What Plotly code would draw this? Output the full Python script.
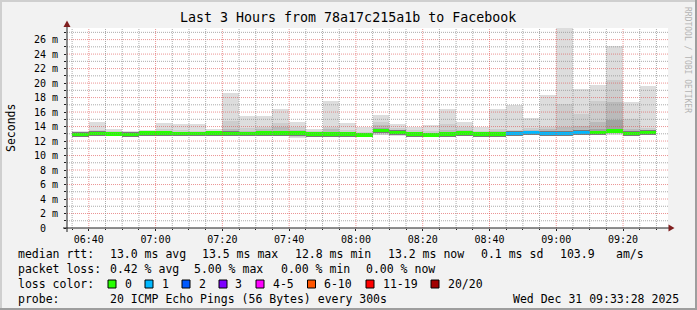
import plotly.graph_objects as go
from datetime import datetime, timedelta

# ---------------- data ----------------
slot_start = ["06:35", "06:40", "06:45", "06:50", "06:55", "07:00", "07:05", "07:10",
              "07:15", "07:20", "07:25", "07:30", "07:35", "07:40", "07:45", "07:50",
              "07:55", "08:00", "08:05", "08:10", "08:15", "08:20", "08:25", "08:30",
              "08:35", "08:40", "08:45", "08:50", "08:55", "09:00", "09:05", "09:10",
              "09:15", "09:20", "09:25"]
median_ms = [12.88, 13.07, 12.97, 12.90, 13.10, 13.10, 13.00, 13.00, 13.10, 13.05,
             13.00, 13.10, 13.10, 13.10, 12.95, 12.95, 12.95, 12.85, 13.43, 13.18,
             12.95, 12.85, 12.95, 13.10, 12.95, 12.95, 13.05, 13.15, 13.05, 13.05,
             13.20, 13.15, 13.40, 13.05, 13.20]
loss_count = [0, 0, 0, 0, 0, 0, 0, 0, 0, 0, 0, 0, 0, 0, 0, 0, 0, 0, 0, 0,
              0, 0, 0, 0, 0, 0, 1, 1, 1, 1, 1, 0, 0, 0, 0]
smoke_lo = [12.55, 12.70, 12.70, 12.75, 12.90, 12.80, 12.70, 12.75, 12.80, 12.70,
            12.70, 12.75, 12.80, 12.46, 12.75, 12.80, 12.75, 12.75, 12.80, 12.70,
            12.70, 12.75, 12.80, 12.85, 12.80, 12.60, 12.70, 12.90, 12.80, 12.75,
            12.85, 12.80, 12.85, 12.80, 12.90]
smoke_q1 = [13.38, 14.67, 13.66, 13.40, 13.50, 14.53, 14.35, 14.35, 13.66, 18.65,
            15.50, 15.45, 16.40, 14.65, 13.60, 17.50, 14.50, 13.98, 15.58, 14.35,
            14.00, 14.17, 16.40, 14.62, 14.00, 16.40, 17.00, 15.15, 18.33, 27.60,
            19.16, 19.70, 25.06, 17.40, 19.60]
smoke_q2 = [13.15, 13.50, 13.35, 13.15, 13.35, 13.70, 13.50, 13.45, 13.45, 14.80,
            13.84, 13.90, 14.45, 13.90, 13.35, 14.00, 13.55, 13.25, 14.60, 13.75,
            13.50, 13.35, 14.30, 13.90, 13.45, 13.65, 13.55, 13.85, 14.00, 17.05,
            15.70, 17.50, 20.40, 15.10, 13.75]
smoke_q3 = [13.05, 13.30, 13.15, 13.05, 13.25, 13.45, 13.30, 13.25, 13.35, 13.70,
            13.45, 13.65, 13.90, 13.50, 13.15, 13.60, 13.25, 13.05, 14.15, 13.45,
            13.25, 13.10, 13.50, 13.50, 13.25, 13.35, 13.35, 13.50, 13.60, 14.00,
            14.10, 14.67, 17.40, 13.70, 13.55]
smoke_q4 = [13.00, 13.20, 13.10, 13.00, 13.20, 13.30, 13.15, 13.15, 13.25, 13.30,
            13.20, 13.35, 13.40, 13.30, 13.10, 13.20, 13.10, 13.00, 13.80, 13.35,
            13.10, 13.00, 13.20, 13.30, 13.10, 13.15, 13.20, 13.35, 13.30, 13.40,
            13.50, 13.60, 14.90, 13.35, 13.40]

y_tick_vals = [0, 2, 4, 6, 8, 10, 12, 14, 16, 18, 20, 22, 24, 26]
y_tick_text = ["0\u00a0\u00a0", "2 m", "4 m", "6 m", "8 m", "10 m", "12 m", "14 m",
               "16 m", "18 m", "20 m", "22 m", "24 m", "26 m"]

title_text = "Last 3 Hours from 78a17c215a1b to Facebook"
stats_rtt = ["median rtt:", "13.0 ms avg", "13.5 ms max", "12.8 ms min",
             "13.2 ms now", "0.1 ms sd", "103.9", "am/s"]
stats_loss = ["packet loss:", "0.42 % avg", "5.00 % max", "0.00 % min", "0.00 % now"]
loss_legend_labels = ["0", "1", "2", "3", "4-5", "6-10", "11-19", "20/20"]
loss_legend_colors = ["#26ff00", "#00b8ff", "#0059ff", "#7e00ff", "#ff00ff",
                      "#ff5500", "#ff0000", "#a10000"]
probe_text = "20 ICMP Echo Pings (56 Bytes) every 300s"
stamp_text = "Wed Dec 31 09:33:28 2025"

# ---------------- geometry / style ----------------
W, H = 697, 310
ML, MR, MT, MB = 67, 29, 28, 82
PW, PH = W - ML - MR, H - MT - MB
FONT = "DejaVu Sans Mono"
DAY = "2025-12-31"
t_begin = datetime(2025, 12, 31, 6, 33, 28)
t_end = datetime(2025, 12, 31, 9, 33, 28)
SLOT = timedelta(minutes=5)
LEG = 11.5


def px_x(px):
    return (px - ML) / PW


def px_y(py):
    return (H - MB - py) / PH


def loss_color(n):
    if n <= 3:
        return loss_legend_colors[n]
    if n <= 5:
        return loss_legend_colors[4]
    if n <= 10:
        return loss_legend_colors[5]
    if n <= 19:
        return loss_legend_colors[6]
    return loss_legend_colors[7]


centers = [datetime.strptime(DAY + " " + s, "%Y-%m-%d %H:%M") + SLOT / 2 for s in slot_start]
width_ms = SLOT.total_seconds() * 1000

fig = go.Figure()


def add_layer(lows, highs, color):
    fig.add_trace(go.Bar(
        x=centers, base=lows, y=[h - l for h, l in zip(highs, lows)],
        width=[width_ms] * len(centers),
        marker=dict(color=color, line=dict(width=0)),
        hoverinfo="skip", showlegend=False))


inner_lo = [m - 0.2 for m in median_ms]
add_layer(smoke_lo, smoke_q1, "#dddddd")
add_layer([l + 0.1 for l in smoke_lo], smoke_q2, "#cdcdcd")
add_layer(inner_lo, smoke_q3, "#bababa")
add_layer(inner_lo, smoke_q4, "#a2a2a2")
add_layer([m - 0.34 for m in median_ms], [m + 0.3 for m in median_ms], "#7a7a7a")
# median band coloured by loss
fig.add_trace(go.Bar(
    x=centers, base=[m - 0.23 for m in median_ms], y=[0.46] * len(median_ms),
    width=[width_ms] * len(centers),
    marker=dict(color=[loss_color(n) for n in loss_count], line=dict(width=0)),
    hoverinfo="skip", showlegend=False))

shapes = []
# grid on top of the smoke (as rrdtool does)
GRID = "rgba(143,143,143,0.75)"
MGRID = "rgba(222,79,79,0.6)"
for v in range(1, 28):
    shapes.append(dict(type="line", xref="paper", yref="y", x0=0, x1=1, y0=v, y1=v,
                       line=dict(color=MGRID if v % 2 == 0 else GRID, width=1, dash="1px,1px"),
                       layer="above"))
t = datetime(2025, 12, 31, 6, 35)
while t < t_end:
    major = (t.minute % 20 == 0)
    shapes.append(dict(type="line", xref="x", yref="paper", x0=t, x1=t, y0=0, y1=1,
                       line=dict(color=MGRID if major else GRID, width=1, dash="1px,1px"),
                       layer="above"))
    t += SLOT

# axis extensions and arrows
AX = "#1f1f1f"
ARROW = "#801f1f"
shapes.append(dict(type="line", xref="paper", yref="paper", x0=0, x1=0,
                   y0=px_y(232), y1=px_y(24), line=dict(color=AX, width=1), layer="above"))
shapes.append(dict(type="line", xref="paper", yref="paper", x0=px_x(63), x1=px_x(670),
                   y0=0, y1=0, line=dict(color=AX, width=1), layer="above"))
shapes.append(dict(type="path", xref="paper", yref="paper",
                   path="M %f %f L %f %f L %f %f Z" % (px_x(63.5), px_y(27), px_x(70.5), px_y(27),
                                                     px_x(67), px_y(20.5)),
                   fillcolor=ARROW, line=dict(width=0), layer="above"))
shapes.append(dict(type="path", xref="paper", yref="paper",
                   path="M %f %f L %f %f L %f %f Z" % (px_x(668.5), px_y(224.5), px_x(668.5), px_y(231.5),
                                                     px_x(674.5), px_y(228)),
                   fillcolor=ARROW, line=dict(width=0), layer="above"))

# 3D frame of the image
shapes.append(dict(type="rect", xref="paper", yref="paper", x0=px_x(0), x1=px_x(W), y0=px_y(H),
                   y1=px_y(H - 2), fillcolor="#9e9e9e", line=dict(width=0), layer="below"))
shapes.append(dict(type="rect", xref="paper", yref="paper", x0=px_x(W - 2), x1=px_x(W), y0=px_y(H),
                   y1=px_y(0), fillcolor="#9e9e9e", line=dict(width=0), layer="below"))
shapes.append(dict(type="rect", xref="paper", yref="paper", x0=px_x(0), x1=px_x(W - 2), y0=px_y(2),
                   y1=px_y(0), fillcolor="#cfcfcf", line=dict(width=0), layer="below"))
shapes.append(dict(type="rect", xref="paper", yref="paper", x0=px_x(0), x1=px_x(2), y0=px_y(H - 2),
                   y1=px_y(0), fillcolor="#cfcfcf", line=dict(width=0), layer="below"))

annotations = []


def text(px, py, s, size=LEG, anchor="left", color="#000000", angle=0):
    annotations.append(dict(xref="paper", yref="paper", x=px_x(px), y=px_y(py), text=s,
                            showarrow=False, xanchor=anchor, yanchor="middle", textangle=angle,
                            font=dict(family=FONT, size=size, color=color)))


text(348, 18, title_text, size=13.3, anchor="center")
text(11, 128, "Seconds", size=11.5, anchor="center", angle=-90)
text(688, 60, "RRDTOOL / TOBI OETIKER", size=8, anchor="center", color="#b4b4b4", angle=90)

row_x = [16, 108, 200, 293, 386, 479, 558, 614]
for x, s in zip(row_x, stats_rtt):
    text(x, 254, s)
row_x2 = [16, 108, 192, 279, 364]
for x, s in zip(row_x2, stats_loss):
    text(x, 269, s)
text(16, 284, "loss color:")
box_x = [108, 145, 182, 219, 256, 307.5, 366, 431]
for bx, lab, col in zip(box_x, loss_legend_labels, loss_legend_colors):
    shapes.append(dict(type="rect", xref="paper", yref="paper", x0=px_x(bx), x1=px_x(bx + 8),
                       y0=px_y(288), y1=px_y(280), fillcolor=col, line=dict(color="#000000", width=1),
                       layer="above"))
    text(bx + 14.5, 284, lab)
text(16, 299, "probe:")
text(108, 299, probe_text)
text(681, 299, stamp_text, anchor="right")

fig.update_layout(
    width=W, height=H, autosize=False,
    margin=dict(l=ML, r=MR, t=MT, b=MB, pad=0),
    paper_bgcolor="#f2f2f2", plot_bgcolor="#ffffff",
    barmode="overlay", bargap=0, showlegend=False,
    shapes=shapes, annotations=annotations,
    font=dict(family=FONT, size=10, color="#000000"),
    xaxis=dict(type="date", range=[t_begin, t_end], showgrid=False, zeroline=False,
               tick0=DAY + " 06:40", dtick=20 * 60 * 1000, tickformat="%H:%M",
               ticks="outside", ticklen=2, tickcolor=AX, ticklabelstandoff=0,
               tickfont=dict(family=FONT, size=10, color="#000000"),
               showline=False, fixedrange=True,
               minor=dict(tick0=DAY + " 06:35", dtick=5 * 60 * 1000, ticks="outside",
                          ticklen=1, tickcolor=AX, showgrid=False)),
    yaxis=dict(range=[0, 27.6], showgrid=False, zeroline=False,
               tickmode="array", tickvals=y_tick_vals, ticktext=y_tick_text,
               ticks="outside", ticklen=2, tickcolor=AX, ticklabelstandoff=4,
               tickfont=dict(family=FONT, size=10, color="#000000"),
               showline=False, fixedrange=True,
               minor=dict(tickmode="linear", tick0=0, dtick=1, ticks="outside",
                          ticklen=2, tickcolor=AX, showgrid=False)),
)

fig.write_html("out.html")
